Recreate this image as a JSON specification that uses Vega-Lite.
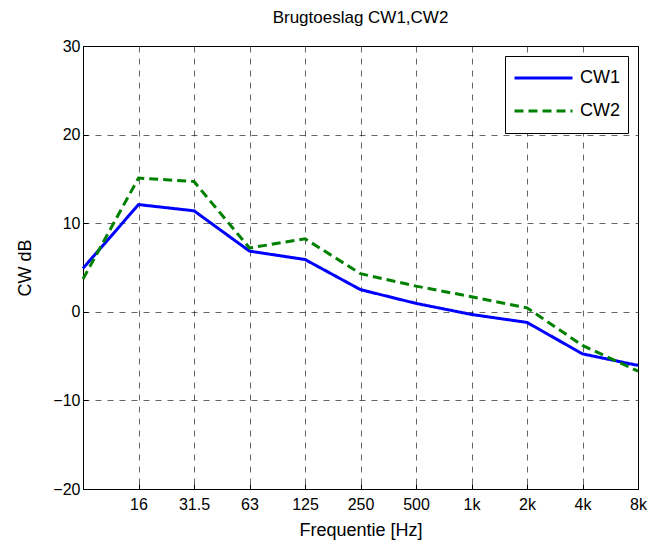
{
  "$schema": "https://vega.github.io/schema/vega-lite/v6.json",
  "width": 555,
  "height": 443,
  "autosize": "none",
  "padding": {"left": 83, "top": 46, "right": 13, "bottom": 53},
  "background": "white",
  "title": {
    "text": "Brugtoeslag CW1,CW2",
    "fontSize": 17,
    "fontWeight": "normal",
    "color": "black",
    "anchor": "middle",
    "offset": 11
  },
  "config": {
    "font": "Liberation Sans",
    "view": {"stroke": "black", "strokeWidth": 1},
    "axis": {
      "domainColor": "black",
      "tickColor": "black",
      "labelColor": "black",
      "titleColor": "black",
      "labelFontSize": 16,
      "titleFontSize": 18,
      "titleFontWeight": "normal",
      "grid": true,
      "gridColor": "#000000",
      "gridOpacity": 0.6,
      "gridDash": [6, 6],
      "tickSize": -5
    },
    "legend": {
      "orient": "top-right",
      "offset": 10,
      "title": null,
      "strokeColor": "black",
      "fillColor": "white",
      "padding": 8,
      "symbolType": "stroke",
      "symbolSize": 3364,
      "symbolStrokeWidth": 3,
      "clipHeight": 28,
      "labelFontSize": 18,
      "labelOffset": 6,
      "labelColor": "black",
      "rowPadding": 5
    }
  },
  "data": {
    "values": [
      {"band": "8", "series": "CW1", "dB": 4.9},
      {"band": "16", "series": "CW1", "dB": 12.1},
      {"band": "31.5", "series": "CW1", "dB": 11.4},
      {"band": "63", "series": "CW1", "dB": 6.85},
      {"band": "125", "series": "CW1", "dB": 5.9},
      {"band": "250", "series": "CW1", "dB": 2.5},
      {"band": "500", "series": "CW1", "dB": 0.95},
      {"band": "1k", "series": "CW1", "dB": -0.3},
      {"band": "2k", "series": "CW1", "dB": -1.2},
      {"band": "4k", "series": "CW1", "dB": -4.75},
      {"band": "8k", "series": "CW1", "dB": -6.05},
      {"band": "8", "series": "CW2", "dB": 3.7},
      {"band": "16", "series": "CW2", "dB": 15.1},
      {"band": "31.5", "series": "CW2", "dB": 14.7},
      {"band": "63", "series": "CW2", "dB": 7.2},
      {"band": "125", "series": "CW2", "dB": 8.25},
      {"band": "250", "series": "CW2", "dB": 4.3},
      {"band": "500", "series": "CW2", "dB": 2.9},
      {"band": "1k", "series": "CW2", "dB": 1.7},
      {"band": "2k", "series": "CW2", "dB": 0.45},
      {"band": "4k", "series": "CW2", "dB": -3.8},
      {"band": "8k", "series": "CW2", "dB": -6.7}
    ]
  },
  "mark": {"type": "line", "strokeWidth": 3, "strokeCap": "butt"},
  "encoding": {
    "x": {
      "field": "band",
      "type": "ordinal",
      "sort": null,
      "scale": {
        "type": "point",
        "padding": 0,
        "domain": ["8", "16", "31.5", "63", "125", "250", "500", "1k", "2k", "4k", "8k"]
      },
      "axis": {
        "title": "Frequentie [Hz]",
        "labelAngle": 0,
        "labelPadding": 12,
        "titlePadding": 9,
        "labelExpr": "datum.value == '8' ? '' : datum.label"
      }
    },
    "y": {
      "field": "dB",
      "type": "quantitative",
      "scale": {"domain": [-20, 30], "nice": false},
      "axis": {
        "title": "CW dB",
        "values": [-20, -10, 0, 10, 20, 30],
        "labelPadding": 8,
        "titlePadding": 18
      }
    },
    "color": {
      "field": "series",
      "type": "nominal",
      "scale": {"domain": ["CW1", "CW2"], "range": ["#0000ff", "#008000"]}
    },
    "strokeDash": {
      "field": "series",
      "type": "nominal",
      "scale": {"domain": ["CW1", "CW2"], "range": [[1, 0], [9, 5]]}
    }
  }
}
